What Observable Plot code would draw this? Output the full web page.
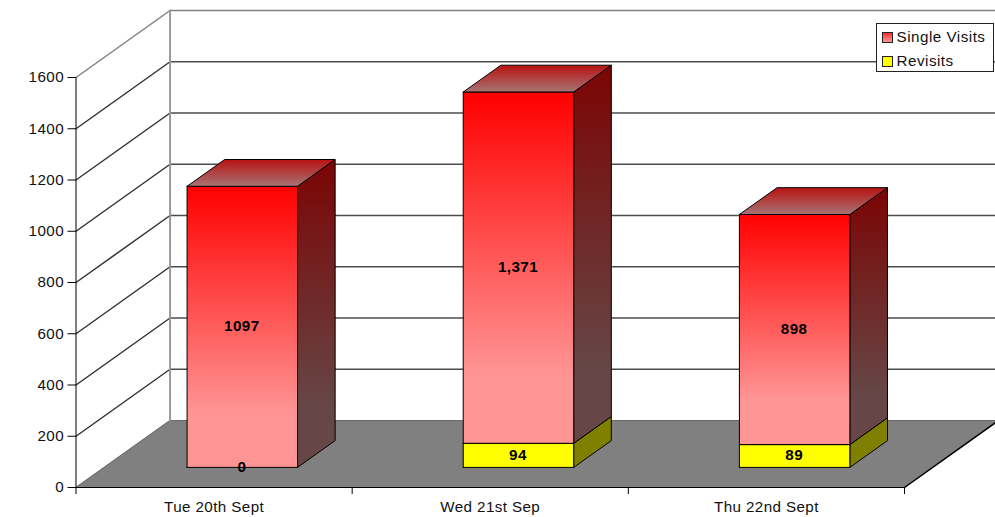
<!DOCTYPE html>
<html>
<head>
<meta charset="utf-8">
<script src="https://cdn.jsdelivr.net/npm/d3@7"></script>
<script src="https://cdn.jsdelivr.net/npm/@observablehq/plot@0.6"></script>
<style>
html,body{margin:0;padding:0;background:#fff;overflow:hidden}
#wrap{position:relative;width:995px;height:517px;font-family:"Liberation Sans",Arial,sans-serif}
#legend{position:absolute;left:875.5px;top:23px;width:116px;height:47px;background:#fff;border:1px solid #222;color:#111;font-size:15.2px;letter-spacing:.5px;box-sizing:content-box}
#legend .row{position:absolute;left:5px;display:flex;align-items:center;height:14px}
#legend .sw{width:9px;height:9px;border:1px solid #222;margin-right:4px;flex:none}
#legend span{position:relative;top:-1px}
</style>
</head>
<body>
<div id="wrap"></div>
<script>
const categories = ["Tue 20th Sept", "Wed 21st Sep", "Thu 22nd Sept"];
const revisits = [0, 94, 89];
const singleVisits = [1097, 1371, 898];
const revisitLabels = ["0", "94", "89"];
const singleLabels = ["1097", "1,371", "898"];
const yTicks = [0, 200, 400, 600, 800, 1000, 1200, 1400, 1600];
const seriesNames = ["Single Visits", "Revisits"];

// oblique projection of the chart's depth axis into data units
const depthX = 94 / 276;
const depthY = 67 / (410 / 1600);
const P = (x, v, d) => ({x: x + d * depthX, y: v + d * depthY});
const barHalf = 0.2, d0 = 0.3, d1 = 0.7;

const face = (pts, fill, stroke = "#000", strokeWidth = 1) =>
  Plot.line([...pts, pts[0]], {x: "x", y: "y", fill, stroke, strokeWidth});

function gradient(id, stops) {
  const g = document.createElementNS("http://www.w3.org/2000/svg", "linearGradient");
  g.setAttribute("id", id);
  g.setAttribute("x1", "0"); g.setAttribute("x2", "0");
  g.setAttribute("y1", "0"); g.setAttribute("y2", "1");
  stops.forEach(([o, c]) => {
    const s = document.createElementNS("http://www.w3.org/2000/svg", "stop");
    s.setAttribute("offset", o); s.setAttribute("stop-color", c);
    g.appendChild(s);
  });
  return g;
}
const defsMark = () => {
  const svg = document.createElementNS("http://www.w3.org/2000/svg", "defs");
  svg.appendChild(gradient("front", [[0, "#ff0000"], [0.8, "#ff9494"], [1, "#ff9494"]]));
  svg.appendChild(gradient("side", [[0, "#7c0404"], [0.8, "#664646"], [1, "#664646"]]));
  svg.appendChild(gradient("topf", [[0, "#b81212"], [1, "#a87474"]]));
  return svg;
};

// walls and floor
const walls = [
  face([P(0,0,0), P(3,0,0), P(3,0,1), P(0,0,1)], "#808080", "#6a6a6a"),
  Plot.line([P(3,0,0), P(3,0,1)], {x: "x", y: "y", stroke: "#000"}),
  Plot.line([P(0,0,0), P(0,0,1)], {x: "x", y: "y", stroke: "#777"}),
  ...yTicks.filter(t => t > 0).map(t => [
    Plot.line([P(0,t,0), P(0,t,1)], {x: "x", y: "y", stroke: t === 1600 ? "#808080" : "#333"}),
    Plot.line([P(0,t,1), P(3,t,1)], {x: "x", y: "y", stroke: t === 1600 ? "#808080" : "#4d4d4d", strokeWidth: 1.3})
  ]),
  Plot.line([P(0,0,1), P(0,1600,1)], {x: "x", y: "y", stroke: "#999", strokeWidth: 2})
];

// stacked 3D bars
const bars = categories.flatMap((c, i) => {
  const cx = i + 0.5, l = cx - barHalf, r = cx + barHalf;
  const a = revisits[i], b = a + singleVisits[i];
  const box = (v0, v1, front, side) => [
    face([P(r,v0,d0), P(r,v0,d1), P(r,v1,d1), P(r,v1,d0)], side),
    face([P(l,v0,d0), P(r,v0,d0), P(r,v1,d0), P(l,v1,d0)], front)
  ];
  return [
    ...(a > 0 ? box(0, a, "#ffff00", "#808000") : []),
    ...box(a, b, "url(#front)", "url(#side)"),
    face([P(l,b,d0), P(r,b,d0), P(r,b,d1), P(l,b,d1)], "url(#topf)")
  ];
});

// value labels centred on each front face
const labels = categories.flatMap((c, i) => {
  const a = revisits[i], b = singleVisits[i];
  return [
    {...P(i + 0.5, a / 2, d0), t: revisitLabels[i]},
    {...P(i + 0.5, a + b / 2, d0), t: singleLabels[i]}
  ];
});

const chart = Plot.plot({
  width: 995, height: 517,
  marginLeft: 75.5, marginRight: 91, marginTop: 77, marginBottom: 30,
  x: {domain: [0, 3], label: null},
  y: {domain: [0, 1600], label: null},
  style: {fontFamily: "'Liberation Sans', Arial, sans-serif", background: "#fff", overflow: "hidden", letterSpacing: "0.4px"},
  marks: [
    defsMark,
    walls,
    bars,
    Plot.text(labels, {x: "x", y: "y", text: "t", fontSize: 15.2, fontWeight: "bold", fill: "#000", dy: -0.5, dx: -0.5}),
    Plot.axisY({ticks: yTicks, tickSize: 8, tickPadding: 4, fontSize: 15.2, stroke: "#000", fill: "#111", label: null, tickFormat: d => String(d)}),
    Plot.axisX({ticks: [0, 1, 2, 3], tickSize: 7, tickFormat: () => "", stroke: "#000", label: null}),
    Plot.axisX({ticks: [0.5, 1.5, 2.5], tickSize: 0, tickPadding: 14, fontSize: 15.2, fill: "#111", label: null,
      tickFormat: d => categories[Math.floor(d)]}),
    Plot.ruleY([0], {stroke: "#000"}),
    Plot.ruleX([0], {stroke: "#000"})
  ]
});
const wrap = document.getElementById("wrap");
wrap.appendChild(chart);

const legend = document.createElement("div");
legend.id = "legend";
const sw = ["linear-gradient(#ff3030,#ff9595)", "#ffff00"];
seriesNames.forEach((n, i) => {
  const row = document.createElement("div");
  row.className = "row";
  row.style.top = (i === 0 ? 6 : 30) + "px";
  const s = document.createElement("div");
  s.className = "sw";
  s.style.background = sw[i];
  const t = document.createElement("span");
  t.textContent = n;
  row.append(s, t);
  legend.appendChild(row);
});
wrap.appendChild(legend);
</script>
</body>
</html>
